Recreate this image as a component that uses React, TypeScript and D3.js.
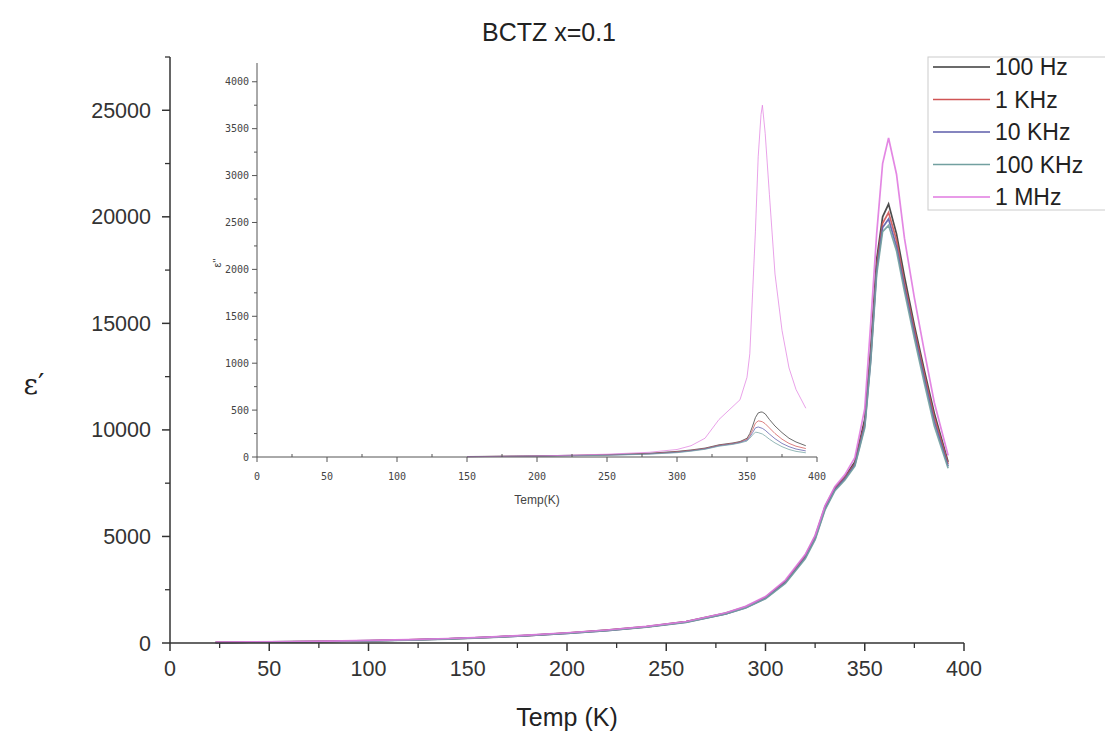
import React from "react";
import * as d3 from "d3";

// ---------- data ----------
const series = ["100 Hz", "1 KHz", "10 KHz", "100 KHz", "1 MHz"];
const colors = ["#3a3a3a", "#d05555", "#5c5caa", "#72a0a0", "#e07ae0"];

const temps = [23, 40, 60, 80, 100, 120, 140, 160, 180, 200, 220, 240, 260, 280, 290, 300, 310, 320, 325, 330, 335, 340, 345, 350, 353, 356, 359, 362, 366, 370, 375, 380, 385, 392];
const hz100 = [30, 45, 60, 80, 110, 150, 200, 270, 360, 470, 600, 770, 1000, 1400, 1700, 2150, 2900, 4100, 5000, 6400, 7300, 7800, 8500, 10500, 13800, 18000, 20000, 20600, 19200, 17200, 14900, 12800, 10800, 8500];
const khz1 = [25, 40, 55, 75, 105, 145, 195, 265, 350, 460, 590, 760, 990, 1380, 1680, 2120, 2860, 4050, 4950, 6350, 7250, 7750, 8400, 10300, 13500, 17700, 19700, 20200, 18900, 16900, 14700, 12600, 10600, 8400];
const khz10 = [20, 35, 50, 70, 100, 140, 190, 260, 345, 455, 580, 750, 980, 1370, 1660, 2100, 2830, 4000, 4900, 6300, 7200, 7700, 8350, 10200, 13300, 17500, 19500, 19900, 18600, 16700, 14500, 12400, 10400, 8300];
const khz100 = [20, 35, 50, 70, 95, 135, 185, 255, 340, 450, 575, 740, 970, 1360, 1650, 2080, 2800, 3950, 4850, 6250, 7150, 7650, 8300, 10100, 13200, 17300, 19300, 19600, 18400, 16500, 14300, 12200, 10200, 8200];
const mhz1 = [40, 55, 70, 90, 120, 160, 210, 280, 370, 480, 610, 780, 1010, 1420, 1720, 2180, 2950, 4150, 5050, 6450, 7350, 7900, 8700, 11000, 15000, 19200, 22500, 23700, 22000, 19000, 16200, 13700, 11300, 8800];
const mainValues = [hz100, khz1, khz10, khz100, mhz1];

const insetTemps = [150, 200, 250, 280, 300, 310, 320, 330, 340, 345, 350, 352, 354, 356, 358, 360, 361, 363, 366, 370, 375, 380, 385, 392];
const inHz100 = [5, 12, 25, 40, 60, 75, 95, 130, 150, 165, 200, 250, 330, 420, 470, 480, 478, 460, 400, 330, 260, 200, 160, 120];
const inKhz1 = [4, 10, 22, 36, 55, 70, 90, 125, 145, 160, 190, 230, 290, 360, 385, 380, 375, 355, 310, 250, 190, 145, 115, 90];
const inKhz10 = [4, 9, 20, 33, 50, 66, 86, 120, 140, 155, 180, 215, 260, 310, 320, 310, 305, 285, 245, 195, 145, 110, 85, 65];
const inKhz100 = [3, 8, 18, 30, 46, 62, 82, 115, 135, 150, 170, 200, 235, 265, 260, 250, 245, 225, 190, 150, 110, 80, 60, 45];
const inMhz1 = [3, 10, 30, 50, 80, 120, 200, 400, 540, 610, 850, 1100, 1750, 2400, 3200, 3650, 3750, 3450, 2800, 1950, 1350, 950, 720, 520];
const insetValues = [inHz100, inKhz1, inKhz10, inKhz100, inMhz1];

const mainXTicks = [0, 50, 100, 150, 200, 250, 300, 350, 400];
const mainYTicks = [0, 5000, 10000, 15000, 20000, 25000];
const insetYTicks = [0, 500, 1000, 1500, 2000, 2500, 3000, 3500, 4000];

export default function App() {
  const W = 1105, H = 735;
  const x = d3.scaleLinear().domain([0, 400]).range([170, 964]);
  const y = d3.scaleLinear().domain([0, 27500]).range([643, 57]);
  const xi = d3.scaleLinear().domain([0, 400]).range([257, 817]);
  const yi = d3.scaleLinear().domain([0, 4200]).range([457, 63]);

  const mainLine = (vals: number[]) =>
    d3.line<number>().x((_, i) => x(temps[i])).y((v) => y(v))(vals) || "";
  const insetLine = (vals: number[]) =>
    d3.line<number>().x((_, i) => xi(insetTemps[i])).y((v) => yi(v))(vals) || "";

  const xMinor = d3.range(25, 400, 50);
  const yMinor = d3.range(2500, 27501, 5000);
  const xiMinor = d3.range(25, 400, 50);
  const yiMinor = d3.range(250, 4201, 500);

  const font = "Liberation Sans, Arial, sans-serif";
  const mono = "DejaVu Sans Mono, monospace";
  const axisColor = "#333";

  return (
    <svg width={W} height={H} style={{ position: "absolute", left: 0, top: 0, background: "#fff" }}>
      <rect width={W} height={H} fill="#fff" />
      {/* title */}
      <text x={549} y={41} textAnchor="middle" fontFamily={font} fontSize={25} fill="#222">BCTZ x=0.1</text>

      {/* main curves */}
      {mainValues.map((vals, k) => (
        <path key={k} d={mainLine(vals)} fill="none" stroke={colors[k]} strokeWidth={1.7} strokeOpacity={0.9} />
      ))}

      {/* main axes */}
      <line x1={x(0)} x2={x(400)} y1={y(0)} y2={y(0)} stroke={axisColor} strokeWidth={1.5} />
      <line x1={x(0)} x2={x(0)} y1={y(0)} y2={y(27500)} stroke={axisColor} strokeWidth={1.5} />
      {mainXTicks.map((t) => (
        <g key={t}>
          <line x1={x(t)} x2={x(t)} y1={y(0)} y2={y(0) + 8} stroke={axisColor} strokeWidth={1.5} />
          <text x={x(t)} y={676} textAnchor="middle" fontFamily={font} fontSize={21.5} fill="#333">{t}</text>
        </g>
      ))}
      {xMinor.map((t) => (
        <line key={t} x1={x(t)} x2={x(t)} y1={y(0)} y2={y(0) + 5} stroke={axisColor} strokeWidth={1.3} />
      ))}
      {mainYTicks.map((v) => (
        <g key={v}>
          <line x1={x(0) - 8} x2={x(0)} y1={y(v)} y2={y(v)} stroke={axisColor} strokeWidth={1.5} />
          <text x={151} y={y(v) + 7.5} textAnchor="end" fontFamily={font} fontSize={21.5} fill="#333">{v}</text>
        </g>
      ))}
      {yMinor.map((v) => (
        <line key={v} x1={x(0) - 5} x2={x(0)} y1={y(v)} y2={y(v)} stroke={axisColor} strokeWidth={1.3} />
      ))}
      <text x={567} y={726} textAnchor="middle" fontFamily={font} fontSize={25} fill="#222">Temp (K)</text>
      <text x={34} y={394} textAnchor="middle" fontFamily="DejaVu Serif, serif" fontSize={28} fill="#222">ε′</text>

      {/* inset curves */}
      {insetValues.map((vals, k) => (
        <path key={k} d={insetLine(vals)} fill="none" stroke={colors[k]} strokeWidth={1} strokeOpacity={k === 4 ? 0.7 : 0.75} />
      ))}
      {/* inset axes */}
      <line x1={xi(0)} x2={xi(400)} y1={yi(0)} y2={yi(0)} stroke="#555" strokeWidth={1} />
      <line x1={xi(0)} x2={xi(0)} y1={yi(0)} y2={yi(4200)} stroke="#555" strokeWidth={1} />
      {mainXTicks.map((t) => (
        <g key={t}>
          <line x1={xi(t)} x2={xi(t)} y1={yi(0)} y2={yi(0) + 5} stroke="#555" strokeWidth={1} />
          <text x={xi(t)} y={480} textAnchor="middle" fontFamily={mono} fontSize={10} fill="#444">{t}</text>
        </g>
      ))}
      {xiMinor.map((t) => (
        <line key={t} x1={xi(t)} x2={xi(t)} y1={yi(0)} y2={yi(0) - 3} stroke="#555" strokeWidth={1} />
      ))}
      {insetYTicks.map((v) => (
        <g key={v}>
          <line x1={xi(0) - 5} x2={xi(0)} y1={yi(v)} y2={yi(v)} stroke="#555" strokeWidth={1} />
          <text x={249} y={yi(v) + 3.5} textAnchor="end" fontFamily={mono} fontSize={10} fill="#444">{v}</text>
        </g>
      ))}
      {yiMinor.map((v) => (
        <line key={v} x1={xi(0) - 3} x2={xi(0)} y1={yi(v)} y2={yi(v)} stroke="#555" strokeWidth={1} />
      ))}
      <text x={537} y={504} textAnchor="middle" fontFamily={font} fontSize={12} fill="#444">Temp(K)</text>
      <text x={0} y={0} transform="translate(221,263) rotate(-90)" textAnchor="middle" fontFamily={font} fontSize={11} fill="#444">ε''</text>

      {/* legend */}
      <rect x={928} y={57} width={190} height={153} fill="#fff" stroke="#ccc" strokeWidth={1} />
      {series.map((s, k) => (
        <g key={s}>
          <line x1={933} x2={990} y1={67 + k * 32.5} y2={67 + k * 32.5} stroke={colors[k]} strokeWidth={1.6} />
          <text x={995} y={67 + k * 32.5 + 8} fontFamily={font} fontSize={23} fill="#222">{s}</text>
        </g>
      ))}
    </svg>
  );
}
